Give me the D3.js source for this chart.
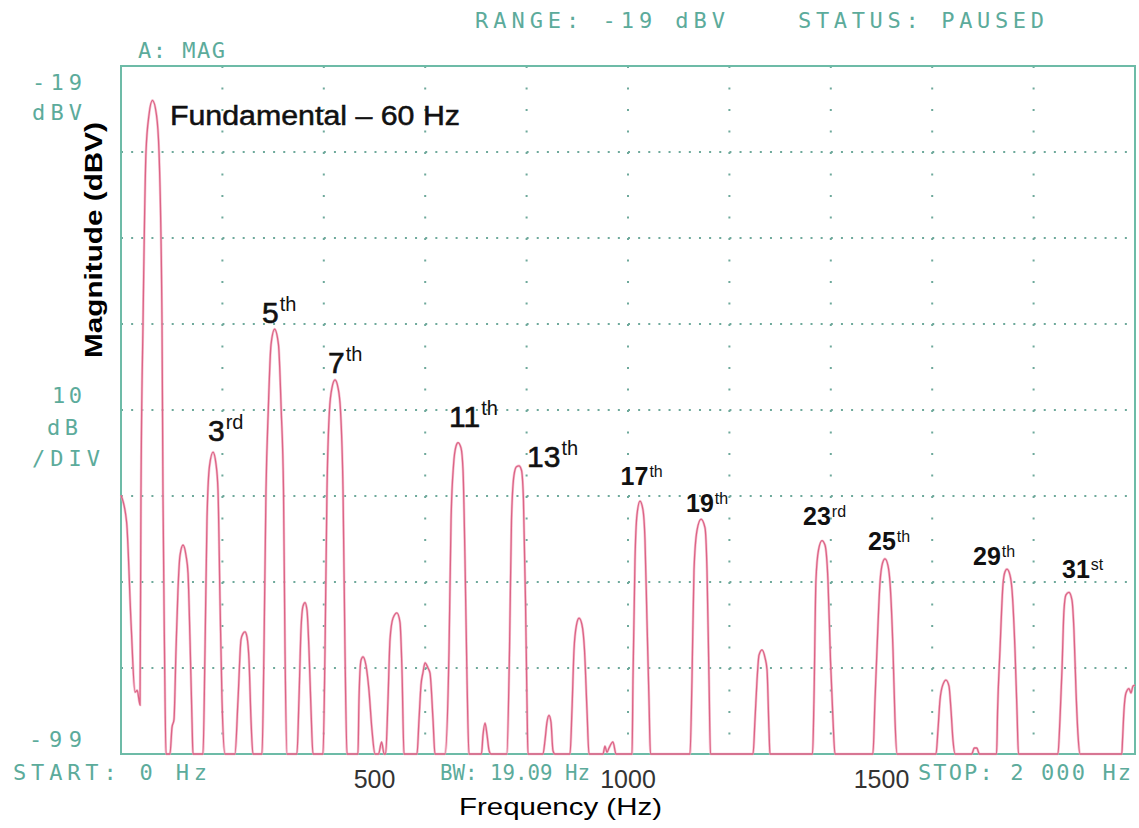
<!DOCTYPE html>
<html><head><meta charset="utf-8">
<script src="https://cdn.jsdelivr.net/npm/d3@7"></script>
<style>html,body{margin:0;padding:0;background:#fff;} svg{display:block;}</style>
</head><body>
<script>
// ---- data ----
// spectrum trace: [frequency Hz, magnitude dBV]
const trace = [
[0,-68.9],[11,-72.0],[20,-84],[27.6,-91.8],[32,-91.6],[37.5,-93.3],
[39.4,-68.9],[43.4,-49.0],[49.3,-29.0],[55.2,-24.7],[62,-23.0],[70,-24.7],[75,-29.0],[80.9,-49.0],[82.8,-68.9],[85.8,-86.9],[88.8,-99],
[96.6,-99],[100.6,-95.9],[104.5,-95.0],[108.5,-86.9],[112.4,-79.9],[116.4,-75.9],[122.3,-74.7],[128.2,-75.9],[132.2,-78.0],[136.1,-85.7],[140,-95.0],[142,-99],
[161.7,-99],[165.7,-86.9],[169.6,-71.8],[174.6,-65.5],[181.5,-63.9],[187.4,-65.3],[191.3,-68.3],[195.3,-81.1],[199.2,-92.7],[205.1,-99],
[224.8,-99],[230.8,-92.7],[236.7,-85.7],[240.6,-85.0],[244.6,-84.8],[248.5,-85.4],[252.5,-88.1],[256.4,-95.0],[260.3,-99],
[278.1,-99],[282,-86.9],[286,-68.3],[290.5,-59.0],[295.9,-51.4],[303,-49.6],[310.6,-51.4],[316,-59.0],[320.5,-68.3],[323.5,-86.9],[327.4,-99],
[347,-99],[351,-92.7],[355,-84.6],[359,-81.8],[363,-81.4],[366.9,-82.3],[370.8,-86.9],[374.8,-93.9],[378.7,-99],
[398.4,-99],[402.4,-86.9],[406.3,-68.3],[411.2,-59.0],[416.2,-56.4],[422.1,-55.5],[428,-56.4],[432.9,-59.0],[437.9,-68.3],[441.8,-86.9],[445.8,-99],
[467.4,-99],[469.4,-92.7],[473.4,-88.1],[477.3,-87.7],[483.2,-88.7],[489.1,-91.6],[495,-96.2],[501,-99],
[508,-99],[514,-97.6],[519,-99],
[522,-99],[526.6,-92.7],[530.6,-85.7],[536.5,-83.2],[544.4,-82.6],[550.3,-83.7],[554.2,-89.2],[558.2,-99],
[583.8,-99],[587.8,-95.0],[591.7,-91.0],[595.7,-89.5],[599.6,-88.4],[605.5,-89.0],[609.5,-89.6],[615.4,-95.0],[619.3,-99],
[639,-99],[647,-86.9],[651,-71.8],[655.9,-65.4],[660.8,-63.2],[664.7,-62.8],[670.6,-63.4],[674.6,-66.0],[678.5,-76.4],[682.5,-90.4],[686.4,-99],
[711,-99],[714,-96.8],[718,-95.4],[722,-96.8],[726,-98.6],[730,-99],
[761,-99],[766.3,-86.9],[770.2,-71.8],[775.1,-66.6],[780,-65.6],[785,-65.5],[789.9,-66.0],[793.8,-69.5],[797.8,-81.1],[800.7,-92.7],[802.7,-99],
[832.3,-99],[836.3,-97.4],[840.2,-95.3],[844.2,-94.5],[848.1,-95.3],[852,-98.6],[856,-99],
[885.6,-99],[889.5,-93.9],[893.5,-86.9],[898.4,-84.0],[903.4,-83.2],[909.3,-84.0],[914.2,-86.9],[919.1,-93.9],[923.1,-99],
[950.7,-99],[954.6,-98.1],[958.6,-98.8],[962.5,-98.3],[970.4,-97.6],[976.3,-99],
[1008,-99],[1009.8,-90.4],[1013.8,-76.4],[1017.7,-71.2],[1023.6,-69.6],[1029.5,-70.6],[1033.5,-74.1],[1037.4,-83.4],[1041.4,-92.7],[1044.3,-99],
[1122.3,-99],[1126.2,-90.4],[1130.2,-77.6],[1136.1,-73.0],[1144,-71.7],[1151.9,-72.7],[1155.8,-77.6],[1159.8,-90.4],[1162.7,-99],
[1246.6,-99],[1250.5,-95.0],[1254.5,-90.4],[1258.4,-87.5],[1264.3,-86.9],[1270.2,-87.8],[1274.2,-89.2],[1278.1,-96.2],[1280,-99],
[1364,-99],[1366.8,-92.7],[1370.7,-78.8],[1375.7,-75.3],[1382.6,-74.2],[1388.5,-74.7],[1394.4,-78.8],[1399.4,-88.1],[1404.3,-95.0],[1408.3,-99],
[1483,-99],[1487.2,-92.7],[1491.1,-86.9],[1497,-79.1],[1502,-76.8],[1506.9,-76.3],[1512.8,-77.1],[1516.8,-79.1],[1522.7,-86.9],[1526.6,-95.0],[1530.5,-99],
[1607.5,-99],[1611.4,-96.2],[1615.4,-92.7],[1621.3,-90.9],[1627.2,-90.4],[1633.1,-91.1],[1637.1,-93.9],[1641,-97.4],[1645,-99],
[1678,-99],[1683,-98.3],[1688,-98.3],[1693,-99],
[1727,-99],[1729,-93.9],[1733.7,-86.9],[1739.6,-79.3],[1743.6,-77.8],[1747.5,-77.5],[1753.4,-78.2],[1757.4,-79.9],[1763.3,-86.9],[1767.2,-93.9],[1770.2,-99],
[1848,-99],[1852,-95.0],[1856,-89.2],[1859.9,-82.3],[1863.8,-80.5],[1869.8,-80.2],[1875.7,-81.1],[1879.6,-84.6],[1883.6,-91.6],[1887.6,-96.8],[1891.5,-99],
[1974,-99],[1975.4,-97.4],[1978.3,-93.9],[1982.2,-91.9],[1988.2,-91.4],[1992.1,-91.9],[1996.1,-91.1],[2000,-91.0]
];
const freqDomain = [0, 2000];
const dbDomain = [-99, -19];
const gridDb = [-29,-39,-49,-59,-69,-79,-89];
const gridHz = [200,400,600,800,1000,1200,1400,1600,1800];
const freqTickLabels = [500, 1000, 1500];
// harmonic labels: [number, suffix, anchor Hz, anchor dBV]
const harmonicLabelsLarge = [
  ["3","rd",171.6,-62.6],["5","th",278.1,-48.9],["7","th",408.3,-54.7],
  ["11","th",646.9,-61.0],["13","th",800.8,-65.6]
];
const harmonicLabelsSmall = [
  ["17","th",985.4,-67.7],["19","th",1114.4,-70.9],["23","rd",1345.2,-72.4],
  ["25","th",1473.4,-75.3],["29","th",1680.5,-77.0],["31","st",1856.0,-78.5]
];
const fundamentalLabel = ["Fundamental \u2013 60 Hz", 96.6, -25.9];
const instrumentTexts = {
  channel: "A: MAG", range: "RANGE: -19 dBV", status: "STATUS: PAUSED",
  top1: "-19", top2: "dBV", div1: "10", div2: "dB", div3: "/DIV", bottom: "-99",
  start: "START: 0 Hz", bw: "BW: 19.09 Hz", stop: "STOP: 2 000 Hz"
};

// ---- drawing ----
const W = 1139, H = 828;
const TEAL_TXT = "#5cab9b", TEAL_LINE = "#6dbba7", GRID = "#6ea99b", TRACE = "#dc6486";
const svg = d3.select("body").append("svg").attr("width", W).attr("height", H);
svg.append("rect").attr("width", W).attr("height", H).attr("fill", "#fff");

const x = d3.scaleLinear().domain(freqDomain).range([121, 1135]);
const y = d3.scaleLinear().domain(dbDomain).range([754, 66]);

// grid
svg.append("g").selectAll("line").data(gridDb).join("line")
  .attr("x1", x(freqDomain[0])).attr("x2", x(freqDomain[1]))
  .attr("y1", d => y(d)).attr("y2", d => y(d))
  .attr("stroke", GRID).attr("stroke-width", 2).attr("stroke-dasharray", "2,8.14");
svg.append("g").selectAll("line").data(gridHz).join("line")
  .attr("x1", d => x(d)).attr("x2", d => x(d))
  .attr("y1", y(dbDomain[1])).attr("y2", y(dbDomain[0]))
  .attr("stroke", GRID).attr("stroke-width", 2).attr("stroke-dasharray", "2,19.5");

// frame
svg.append("rect")
  .attr("x", x(freqDomain[0])).attr("y", y(dbDomain[1]))
  .attr("width", x(freqDomain[1]) - x(freqDomain[0]))
  .attr("height", y(dbDomain[0]) - y(dbDomain[1]))
  .attr("fill", "none").attr("stroke", TEAL_LINE).attr("stroke-width", 2);

// trace
const line = d3.line().x(d => x(d[0])).y(d => y(d[1])).curve(d3.curveMonotoneX);
svg.append("path").datum(trace).attr("d", line)
  .attr("fill", "none").attr("stroke", "#f2a9bf").attr("stroke-width", 2.6).attr("opacity", 0.7);
svg.append("path").datum(trace).attr("d", line)
  .attr("fill", "none").attr("stroke", TRACE).attr("stroke-width", 1.3);

// instrument (teal) texts
function teal(str, px, py, len, adj) {
  svg.append("text").attr("x", px).attr("y", py).text(str)
    .attr("font-family", "'DejaVu Sans Mono', monospace").attr("font-size", 22)
    .attr("fill", TEAL_TXT).attr("textLength", len).attr("lengthAdjust", adj || "spacing");
}
const T = instrumentTexts;
teal(T.channel, 138, 58, 87);
teal(T.range, 475, 28, 250);
teal(T.status, 798, 28, 246);
teal(T.top1, 32, 90, 50);
teal(T.top2, 32, 120, 50);
teal(T.div1, 52, 403, 30);
teal(T.div2, 47, 435, 31);
teal(T.div3, 32, 466, 68);
teal(T.bottom, 29, 747, 53);
teal(T.start, 13, 780, 194);
teal(T.bw, 440, 780, 150, "spacingAndGlyphs");
teal(T.stop, 918, 780, 213);

// frequency tick labels with white boxes
const tickG = svg.append("g");
freqTickLabels.forEach(v => {
  const t = tickG.append("text").attr("x", x(v)).attr("y", 788)
    .attr("text-anchor", "middle").attr("font-family", "'Liberation Sans', Arial, sans-serif")
    .attr("font-size", 25).attr("fill", "#333").text(v);
  const b = t.node().getBBox();
  tickG.insert("rect", "text").attr("x", b.x - 6).attr("y", b.y - 2)
    .attr("width", b.width + 12).attr("height", b.height + 4).attr("fill", "#fff");
});

// axis titles
svg.append("text").attr("x", 459).attr("y", 815)
  .attr("font-family", "'Liberation Sans', Arial, sans-serif").attr("font-size", 24)
  .attr("fill", "#000").attr("textLength", 203).attr("lengthAdjust", "spacingAndGlyphs")
  .text("Frequency (Hz)");
svg.append("text").attr("transform", "translate(102,240) rotate(-90)")
  .attr("text-anchor", "middle")
  .attr("font-family", "'Liberation Sans', Arial, sans-serif").attr("font-size", 24)
  .attr("font-weight", "bold").attr("fill", "#000")
  .attr("textLength", 236).attr("lengthAdjust", "spacingAndGlyphs")
  .text("Magnitude (dBV)");

// fundamental label
svg.append("text").attr("x", x(fundamentalLabel[1])).attr("y", y(fundamentalLabel[2]))
  .attr("font-family", "'Liberation Sans', Arial, sans-serif").attr("font-size", 27)
  .attr("fill", "#111").attr("stroke", "#111").attr("stroke-width", 0.5)
  .attr("textLength", 290).attr("lengthAdjust", "spacingAndGlyphs")
  .text(fundamentalLabel[0]);

// harmonic labels
function harm(list, size, weight, supSize, supDy, sw) {
  list.forEach(h => {
    const t = svg.append("text").attr("x", x(h[2])).attr("y", y(h[3]))
      .attr("font-family", "'Liberation Sans', Arial, sans-serif").attr("fill", "#111");
    t.append("tspan").attr("font-size", size).attr("font-weight", weight)
      .attr("stroke", "#111").attr("stroke-width", sw).text(h[0]);
    t.append("tspan").attr("font-size", supSize).attr("dx", 1).attr("dy", supDy).text(h[1]);
  });
}
harm(harmonicLabelsLarge, 30, "normal", 20, -12, 0.6);
harm(harmonicLabelsSmall, 25, "bold", 16, -8, 0);
</script>
</body></html>
